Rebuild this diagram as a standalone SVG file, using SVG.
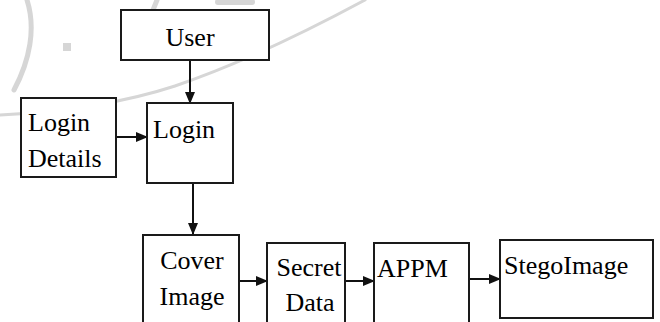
<svg xmlns="http://www.w3.org/2000/svg" width="660" height="322" viewBox="0 0 660 322">
<defs>
<marker id="ah" markerWidth="12" markerHeight="10" refX="11" refY="5" orient="auto" markerUnits="userSpaceOnUse">
<path d="M0,0 L12,5 L0,10 Z" fill="#111"/>
</marker>
</defs>
<rect width="660" height="322" fill="#fff"/>
<g id="watermark" stroke="#d6d6d6" fill="none" stroke-linecap="round">
<path stroke-width="3" d="M0,115 C60,112 120,104 175,86 C240,64 300,35 365,0"/>
<path stroke-width="5" d="M27,0 C36,28 30,60 14,90"/>
<rect x="63" y="43" width="8" height="8" fill="#d6d6d6" stroke="none"/>
<path stroke-width="5" d="M145,30 L157,0 M147,24 L187,20"/>
<path stroke-width="6" d="M218,2 L252,2"/>
</g>
<g id="connectors" stroke="#111" stroke-width="2" fill="none" marker-end="url(#ah)">
<line x1="190" y1="60" x2="190" y2="103"/>
<line x1="116" y1="137" x2="147" y2="137"/>
<line x1="193" y1="183" x2="193" y2="234"/>
<line x1="239" y1="281" x2="267" y2="281"/>
<line x1="345" y1="281" x2="374" y2="281"/>
<line x1="469" y1="279" x2="500" y2="279"/>
</g>
<g id="user">
<rect x="121" y="10" width="148" height="50" fill="#fff" stroke="#1a1a1a" stroke-width="2"/>
<text x="190" y="46" text-anchor="middle" style="font-family:Tinos,'Liberation Serif',serif;font-size:26px">User</text>
</g>
<g id="login-details">
<rect x="21" y="98" width="95" height="79" fill="#fff" stroke="#1a1a1a" stroke-width="2"/>
<text x="28" y="131" style="font-family:Tinos,'Liberation Serif',serif;font-size:26px">Login</text>
<text x="28" y="167" style="font-family:Tinos,'Liberation Serif',serif;font-size:26px">Details</text>
</g>
<g id="login">
<rect x="147" y="103" width="86" height="80" fill="#fff" stroke="#1a1a1a" stroke-width="2"/>
<text x="153" y="138" style="font-family:Tinos,'Liberation Serif',serif;font-size:26px">Login</text>
</g>
<g id="cover-image">
<rect x="143" y="235" width="96" height="100" fill="#fff" stroke="#1a1a1a" stroke-width="2"/>
<text x="192" y="269" text-anchor="middle" style="font-family:Tinos,'Liberation Serif',serif;font-size:26px">Cover</text>
<text x="192" y="305" text-anchor="middle" style="font-family:Tinos,'Liberation Serif',serif;font-size:26px">Image</text>
</g>
<g id="secret-data">
<rect x="267" y="243" width="78" height="92" fill="#fff" stroke="#1a1a1a" stroke-width="2"/>
<text x="309" y="276" text-anchor="middle" style="font-family:Tinos,'Liberation Serif',serif;font-size:26px">Secret</text>
<text x="310" y="311" text-anchor="middle" style="font-family:Tinos,'Liberation Serif',serif;font-size:26px">Data</text>
</g>
<g id="appm">
<rect x="374" y="243" width="95" height="92" fill="#fff" stroke="#1a1a1a" stroke-width="2"/>
<text x="377" y="277" style="font-family:Tinos,'Liberation Serif',serif;font-size:26px">APPM</text>
</g>
<g id="stego-image">
<rect x="500" y="240" width="153" height="78" fill="#fff" stroke="#1a1a1a" stroke-width="2"/>
<text x="504" y="274" style="font-family:Tinos,'Liberation Serif',serif;font-size:26px">StegoImage</text>
</g>
</svg>
